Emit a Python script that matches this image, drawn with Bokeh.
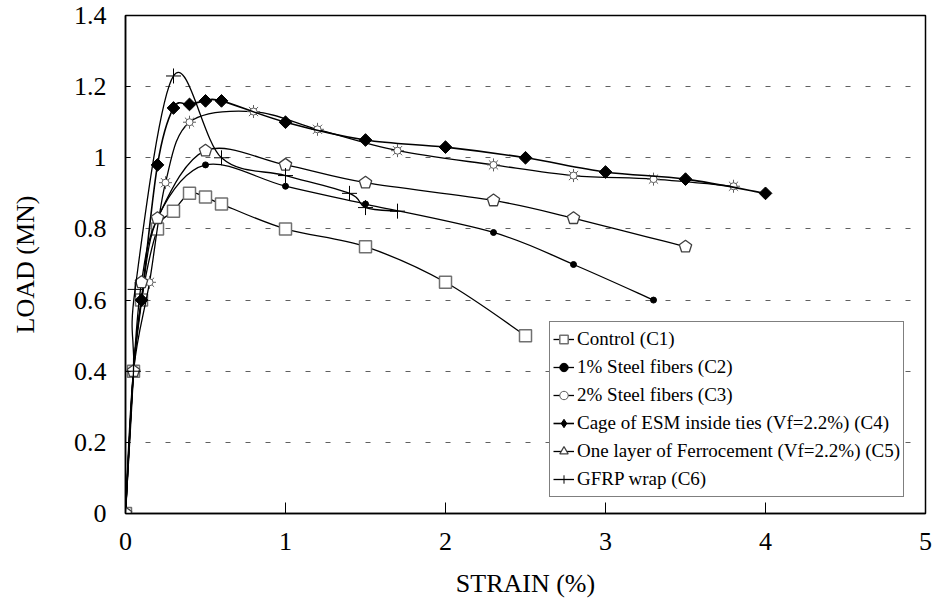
import math
from bokeh.plotting import figure
from bokeh.models import (Legend, LegendItem, FixedTicker, NumeralTickFormatter,
                          ColumnDataSource, Range1d)
from bokeh.embed import file_html
from bokeh.resources import INLINE

# ---- data (strain %, load MN) ----
c1_x = [0, 0.05, 0.1, 0.2, 0.3, 0.4, 0.5, 0.6, 1.0, 1.5, 2.0, 2.5]
c1_y = [0, 0.40, 0.60, 0.80, 0.85, 0.90, 0.89, 0.87, 0.80, 0.75, 0.65, 0.50]

c2_x = [0, 0.05, 0.1, 0.2, 0.5, 1.0, 1.5, 2.3, 2.8, 3.3]
c2_y = [0, 0.40, 0.60, 0.83, 0.98, 0.92, 0.87, 0.79, 0.70, 0.60]

c3_x = [0, 0.05, 0.15, 0.25, 0.4, 0.8, 1.2, 1.7, 2.3, 2.8, 3.3, 3.8]
c3_y = [0, 0.40, 0.65, 0.93, 1.10, 1.13, 1.08, 1.02, 0.98, 0.95, 0.94, 0.92]

c4_x = [0, 0.05, 0.1, 0.2, 0.3, 0.4, 0.5, 0.6, 1.0, 1.5, 2.0, 2.5, 3.0, 3.5, 4.0]
c4_y = [0, 0.40, 0.60, 0.98, 1.14, 1.15, 1.16, 1.16, 1.10, 1.05, 1.03, 1.00, 0.96, 0.94, 0.90]

c5_x = [0, 0.05, 0.1, 0.2, 0.5, 1.0, 1.5, 2.3, 2.8, 3.5]
c5_y = [0, 0.40, 0.65, 0.83, 1.02, 0.98, 0.93, 0.88, 0.83, 0.75]

c6_x = [0, 0.05, 0.06, 0.3, 0.6, 1.0, 1.4, 1.5, 1.7]
c6_y = [0, 0.40, 0.63, 1.23, 1.00, 0.95, 0.90, 0.86, 0.85]

labels = ["Control (C1)", "1% Steel fibers (C2)", "2% Steel fibers (C3)",
          "Cage of ESM inside ties (Vf=2.2%) (C4)",
          "One layer of Ferrocement (Vf=2.2%) (C5)", "GFRP wrap (C6)"]

x_ticks = [0, 1, 2, 3, 4, 5]
y_ticks = [0, 0.2, 0.4, 0.6, 0.8, 1.0, 1.2, 1.4]

FONT = "Liberation Serif"


def smooth_source(xs, ys):
    """Catmull-Rom style cubic Bezier control points through the data points."""
    n = len(xs)
    d = dict(x0=[], y0=[], x1=[], y1=[], cx0=[], cy0=[], cx1=[], cy1=[])
    for i in range(n - 1):
        ip = max(i - 1, 0)
        inn = min(i + 2, n - 1)
        d["x0"].append(xs[i]); d["y0"].append(ys[i])
        d["x1"].append(xs[i + 1]); d["y1"].append(ys[i + 1])
        d["cx0"].append(xs[i] + (xs[i + 1] - xs[ip]) / 6.0)
        d["cy0"].append(ys[i] + (ys[i + 1] - ys[ip]) / 6.0)
        d["cx1"].append(xs[i + 1] - (xs[inn] - xs[i]) / 6.0)
        d["cy1"].append(ys[i + 1] - (ys[inn] - ys[i]) / 6.0)
    return ColumnDataSource(d)


p = figure(width=933, height=600, output_backend="svg", toolbar_location=None,
           x_range=Range1d(0, 5), y_range=Range1d(0, 1.4),
           min_border_left=125, min_border_right=8, min_border_top=15,
           min_border_bottom=87)
p.background_fill_color = "white"
p.border_fill_color = "white"
p.outline_line_color = "black"
p.outline_line_width = 1.5

# axes
for ax in (p.xaxis[0], p.yaxis[0]):
    ax.axis_line_color = "black"
    ax.axis_line_width = 1.5
    ax.major_label_text_font = FONT
    ax.major_label_text_font_size = "26px"
    ax.major_label_text_color = "black"
    ax.axis_label_text_font = FONT
    ax.axis_label_text_font_size = "26px"
    ax.axis_label_text_font_style = "normal"
    ax.axis_label_text_color = "black"
    ax.minor_tick_line_color = None
    ax.major_tick_line_color = "black"
    ax.major_tick_line_width = 1

p.xaxis.ticker = FixedTicker(ticks=x_ticks)
p.yaxis.ticker = FixedTicker(ticks=y_ticks)
p.xaxis.formatter = NumeralTickFormatter(format="0")
p.yaxis.formatter = NumeralTickFormatter(format="0.[0]")
p.xaxis.major_tick_in = 11
p.xaxis.major_tick_out = 0
p.yaxis.major_tick_in = 5
p.yaxis.major_tick_out = 0
p.xaxis.major_label_standoff = 19
p.yaxis.major_label_standoff = 19
p.xaxis.axis_label = "STRAIN (%)"
p.yaxis.axis_label = "LOAD (MN)"
p.xaxis.axis_label_standoff = 16
p.yaxis.axis_label_standoff = 31

p.xgrid.grid_line_color = None
p.ygrid.grid_line_color = "#606060"
p.ygrid.grid_line_width = 1
p.ygrid.grid_line_dash = "5 15"

LW = 1.3
items = []


def curve(xs, ys, lw=LW):
    s = smooth_source(xs, ys)
    p.bezier("x0", "y0", "x1", "y1", "cx0", "cy0", "cx1", "cy1", source=s,
             line_color="black", line_width=lw)
    # legend proxy: a one-point line draws nothing on the plot
    return p.line(x=xs[:1], y=ys[:1], line_color="black", line_width=lw)


# C1 control: open gray squares
lp = curve(c1_x, c1_y)
r_m = p.scatter(c1_x, c1_y, marker="square", size=12, fill_color="white",
                line_color="#707070", line_width=1.5)
items.append(LegendItem(label=labels[0], renderers=[lp, r_m]))

# C2: small filled dots
lp = curve(c2_x, c2_y)
r_m = p.scatter(c2_x, c2_y, marker="circle", size=6, fill_color="black",
                line_color="black")
items.append(LegendItem(label=labels[1], renderers=[lp, r_m]))

# C3: sun-like markers
lp = curve(c3_x, c3_y)
r_m1 = p.scatter(c3_x, c3_y, marker="asterisk", size=13, line_color="#606060",
                 line_width=1)
r_m2 = p.scatter(c3_x, c3_y, marker="circle", size=7, fill_color="white",
                 line_color="#606060", line_width=1)
items.append(LegendItem(label=labels[2], renderers=[lp, r_m1, r_m2]))

# C4: filled black diamonds
lp = curve(c4_x, c4_y, 1.6)
leg_d = p.scatter(c4_x, c4_y, marker="diamond", size=2, fill_color="black",
                  line_color="black")
p.scatter(c4_x, c4_y, marker="square", size=9, angle=math.pi / 4,
          fill_color="black", line_color="black")
items.append(LegendItem(label=labels[3], renderers=[lp, leg_d]))

# C5: house-like pentagons
lp = curve(c5_x, c5_y)
leg_h = p.scatter(c5_x, c5_y, marker="triangle", size=2, fill_color="white",
                  line_color="#404040", line_width=1.2)
p.ngon(c5_x, c5_y, radius=6.5, n=5, radius_units="screen",
       fill_color="white", line_color="#404040", line_width=1.3)
items.append(LegendItem(label=labels[4], renderers=[lp, leg_h]))

# C6: plus markers
lp = curve(c6_x, c6_y)
r_m = p.scatter(c6_x, c6_y, marker="cross", size=15, line_color="black",
                line_width=1)
items.append(LegendItem(label=labels[5], renderers=[lp, r_m]))

legend = Legend(items=items, location=(424, 16))
legend.label_text_font = FONT
legend.label_text_font_size = "19px"
legend.label_text_color = "black"
legend.label_height = 28
legend.glyph_height = 28
legend.glyph_width = 21
legend.label_standoff = 3
legend.spacing = 0
legend.padding = 3
legend.margin = 0
legend.border_line_color = "black"
legend.border_line_width = 1.5
legend.background_fill_color = "white"
legend.background_fill_alpha = 1
p.add_layout(legend)

open("out.html", "w").write(file_html(p, INLINE))
